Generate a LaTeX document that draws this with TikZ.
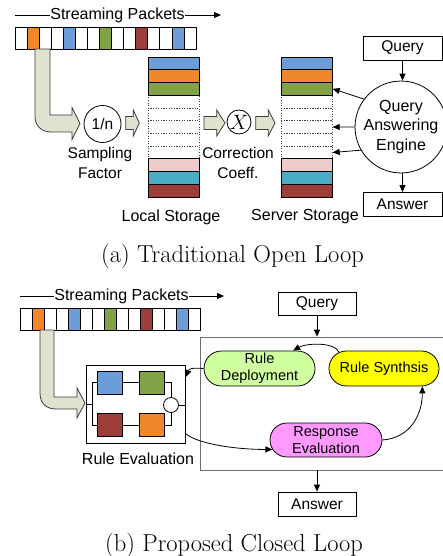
\documentclass[tikz,border=0pt]{standalone}
\usepackage{fontspec}
\newfontfamily\arial{Liberation Sans}
\usetikzlibrary{arrows.meta,shapes.misc,shapes.geometric,calc}
\definecolor{cblue}{RGB}{109,157,216}
\definecolor{corange}{RGB}{240,136,42}
\definecolor{cgreen}{RGB}{130,162,70}
\definecolor{cred}{RGB}{158,60,58}
\definecolor{cpink}{RGB}{238,204,204}
\definecolor{cteal}{RGB}{75,172,198}
\definecolor{fatfill}{RGB}{221,227,206}
\definecolor{fatdraw}{RGB}{60,60,60}
\definecolor{dgreen}{RGB}{208,255,160}
\definecolor{dyellow}{RGB}{255,255,0}
\definecolor{dmag}{RGB}{255,153,255}
\definecolor{cgray}{RGB}{110,110,110}
\begin{document}
\begin{tikzpicture}[x=1pt,y=-1pt,
  every node/.style={inner sep=0pt},
  every path/.style={line width=0.8pt},
  sans/.style={font=\arial\fontsize{15.5}{20}\selectfont},
  bigsans/.style={font=\arial\fontsize{16}{20}\selectfont},
  captxt/.style={font=\fontsize{24.5}{28}\selectfont},
  cell/.style={draw, line width=0.7pt, minimum height=22pt},
  srow/.style={draw, line width=0.7pt, minimum width=51pt, minimum height=12.73pt},
  drow/.style={draw=black!75, dotted, line width=0.6pt, minimum width=51pt, minimum height=12.73pt},
  fat/.style={fill=fatfill, draw=fatdraw, line width=0.8pt},
  arr/.style={-{Triangle[length=7pt,width=6pt]}, line width=0.8pt},
  tbox/.style={sans, draw, minimum width=79pt, minimum height=24pt},
  pill/.style={rounded rectangle, draw, minimum height=35pt, align=center, font=\arial\fontsize{14.5}{17}\selectfont},
  sq/.style={draw, minimum width=25pt, minimum height=23pt}
]
\useasboundingbox (0,0) rectangle (443,556);

% ================= (a) =================
\node[bigsans] (sp1) at (117.5,15) {Streaming Packets};
\coordinate (s1l) at (15,15);
\coordinate (s1r) at (221,15);
\draw (s1l) -- (sp1.west);
\draw[arr] (sp1.east) -- (s1r);

\foreach \i in {0,...,14} {
  \node[cell, minimum width=12.07pt] (pa\i) at ({15+12.07*(\i+0.5)},38) {};
}
\foreach \i/\c in {1/corange,4/cblue,7/cgreen,10/cred,13/cblue} {
  \node[cell, minimum width=12.07pt, fill=\c] (pac\i) at ({15+12.07*(\i+0.5)},38) {};
}

% big fat arrow (a)
\draw[fat] (35,49) -- (50,49) -- (50,115) -- (72,115) -- (72,107.5) -- (80,123.5)
  -- (72,139.5) -- (72,132) -- (51,132) .. controls (42,132) and (35,126) .. (35,117) -- cycle;

\node[circle, draw, minimum size=37pt, sans] (samp) at (102.5,124) {1/n};
\node[sans, align=center] (sf) at (100,163) {Sampling\\Factor};

\foreach \a/\b/\t in {125.7/133.3/139.3, 204/216.7/225, 255.7/268.3/275} {
  \draw[fat] (\a,116.5) -- (\b,116.5) -- (\b,110) -- (\t,123) -- (\b,136) -- (\b,129.5) -- (\a,129.5) -- cycle;
}

\node[circle, draw, minimum size=24pt] (cx) at (239,122) {\fontsize{21}{22}\selectfont$X$};
\node[sans, align=center] (cc) at (238,163) {Correction\\Coeff.};

% storages
\foreach \i in {3,...,7} {
  \node[drow] (ls\i) at (173.5,{57+12.73*(\i+0.5)}) {};
  \node[drow] (ss\i) at (306.85,{57+12.73*(\i+0.5)}) {};
}
\foreach \i/\c in {0/cblue,1/corange,2/cgreen,8/cpink,9/cteal,10/cred} {
  \node[srow, fill=\c] (ls\i) at (173.5,{57+12.73*(\i+0.5)}) {};
  \node[srow, fill=\c] (ss\i) at (306.85,{57+12.73*(\i+0.5)}) {};
}
\node[bigsans] (lsl) at (171,217) {Local Storage};
\node[bigsans] (ssl) at (305,217) {Server Storage};

\node[tbox] (q1) at (402.5,48) {Query};
\node[tbox] (a1) at (402.5,204.5) {Answer};
\node[circle, draw, minimum size=88pt, align=center, font=\arial\fontsize{16}{19.5}\selectfont] (qae) at (401,127) {Query\\Answering\\Engine};
\draw[arr] (q1.south) -- (q1.south |- qae.north);
\draw[arr] (a1.north |- qae.south) -- (a1.north);
\draw[arr] (qae.143) -- (ss2.east);
\draw[arr] (qae.west) -- (ss5.east);
\draw[arr] (qae.210) -- (ss7.east);

\node[captxt, anchor=base] (capa) at (232.5,262) {(a) Traditional Open Loop};

% ================= (b) =================
\node[bigsans] (sp2) at (121.5,296) {Streaming Packets};
\coordinate (s2l) at (20,296);
\coordinate (s2r) at (224,296);
\draw (s2l) -- (sp2.west);
\draw[arr] (sp2.east) -- (s2r);

\foreach \i in {0,...,14} {
  \node[cell, minimum width=12pt] (pb\i) at ({20+12*(\i+0.5)},319) {};
}
\foreach \i/\c in {1/corange,4/cblue,7/cgreen,10/cred,13/cblue} {
  \node[cell, minimum width=12pt, fill=\c] (pbc\i) at ({20+12*(\i+0.5)},319) {};
}

\draw[fat] (40,330) -- (54,330) -- (54,397) -- (77,397) -- (77,388) -- (85,403)
  -- (77,418) -- (77,409) -- (56,409) .. controls (47,409) and (40,404) .. (40,393) -- cycle;

% rule evaluation
\node[draw, minimum width=99pt, minimum height=78pt] (reb) at (135.5,404) {};
\node[sq, fill=cblue] (e1) at (109.5,382.5) {};
\node[sq, fill=cgreen] (e2) at (151.5,382.5) {};
\node[sq, fill=cred] (e3) at (109.5,425) {};
\node[sq, fill=corange] (e4) at (151.5,425) {};
\coordinate (lt) at (92,382.5);
\coordinate (lb) at (92,425);
\coordinate (rt) at (171,382.5);
\coordinate (rb) at (171,425);
\coordinate (lm) at (92,404);
\draw (lt) -- (e1.west);
\draw (e1.east) -- (e2.west);
\draw (e2.east) -- (rt) -- (rb) -- (e4.east);
\draw (e4.west) -- (e3.east);
\draw (e3.west) -- (lb) -- (lt);
\draw (reb.west |- lm) -- (lm);
\node[circle, draw, fill=white, minimum size=15pt] (oc) at (171,405) {};
\draw (oc.east) -- (reb.east |- oc);
\node[bigsans] (rel) at (138,459) {Rule Evaluation};

% big box
\node[draw=cgray, minimum width=246pt, minimum height=133pt] (bb) at (323,403.5) {};
\node[tbox, minimum width=78pt, minimum height=23pt] (q2) at (317,303.5) {Query};
\node[tbox, minimum width=78pt] (a2) at (317,504) {Answer};
\draw[arr] (q2.south) -- (q2.south |- bb.north);
\draw[arr] (a2.north |- bb.south) -- (a2.north);

\node[pill, fill=dgreen, minimum width=111pt] (rd) at (259.5,368.5) {Rule\\Deployment};
\node[pill, fill=dyellow, minimum width=110pt] (rs) at (384,368.5) {Rule Synthsis};
\node[pill, fill=dmag, minimum width=112pt, minimum height=34pt] (rev) at (326,440) {Response\\Evaluation};

\coordinate (rein) at (186,377);
\coordinate (reout) at (185,433);
\draw[arr] (rs.160) .. controls +(-6,-11) and +(12,-7) .. (rd.28);
\draw[arr] (rd.west) .. controls +(-12,-1) and +(3,-8) .. (rein);
\draw[arr] (reout) .. controls +(10,10) and +(-40,0) .. (rev.190);
\draw[arr] (rev.east) .. controls +(28,-2) and +(0,28) .. (rs.-25);

\node[captxt, anchor=base] (capb) at (234,551) {(b) Proposed Closed Loop};
\end{tikzpicture}
\end{document}
